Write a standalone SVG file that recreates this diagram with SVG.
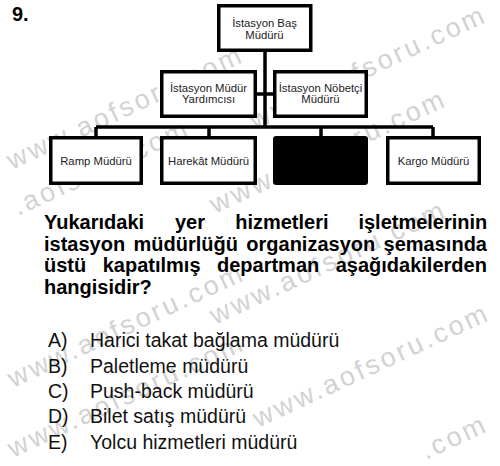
<svg xmlns="http://www.w3.org/2000/svg" width="500" height="466" viewBox="0 0 500 466">
<style>
.wm{font-family:"Liberation Sans",Arial,sans-serif;font-size:27px;fill:#d2d2d2;letter-spacing:3px}
.box{fill:#fff;stroke:#000;stroke-width:3.5}
.blk{fill:#000;stroke:#000;stroke-width:3.5}
.bt{font-family:"Liberation Sans",Arial,sans-serif;font-size:11.3px;fill:#222;text-anchor:middle}
.q{font-family:"Liberation Sans",Arial,sans-serif;font-size:20px;font-weight:bold;fill:#000}
.o{font-family:"Liberation Sans",Arial,sans-serif;font-size:19.5px;fill:#111}
.ln{fill:none;stroke:#000;stroke-width:3.5}
</style>
<rect width="500" height="466" fill="#fff"/>
<g id="watermarks">
<text class="wm" transform="translate(12,170) rotate(-25)">www.aofsoru.com</text>
<text class="wm" transform="translate(255,130) rotate(-25)">www.aofsoru.com</text>
<text class="wm" transform="translate(18,216) rotate(-25)">.aofsoru.com</text>
<text class="wm" transform="translate(215,214) rotate(-25)">www.aofsoru.com</text>
<text class="wm" transform="translate(13,388) rotate(-25)">www.aofsoru.com</text>
<text class="wm" transform="translate(215,325) rotate(-25)">www.aofsoru.com</text>
<text class="wm" transform="translate(13,458) rotate(-25)">www.aofsoru.com</text>
<text class="wm" transform="translate(258,428) rotate(-25)">www.aofsoru.com</text>
<text class="wm" transform="translate(426,460) rotate(-25)">.com</text>
</g>
<text x="12" y="21" style="font-family:'Liberation Sans',Arial,sans-serif;font-size:20px;font-weight:bold">9.</text>
<g id="connectors">
<path class="ln" d="M265 52 V127 M257 94 H273 M96 127 H433 M96 127 V137 M209 127 V137 M321 127 V137 M433 127 V137"/>
</g>
<g id="n-bas">
<rect class="box" x="218.75" y="5.75" width="92" height="44.5"/>
<text class="bt" x="264.5" y="27">İstasyon Baş</text>
<text class="bt" x="264.5" y="38.5">Müdürü</text>
</g>
<g id="n-yardimci">
<rect class="box" x="161.75" y="71.75" width="93.5" height="44.5"/>
<text class="bt" x="208.5" y="91.5">İstasyon Müdür</text>
<text class="bt" x="208.5" y="103">Yardımcısı</text>
</g>
<g id="n-nobetci">
<rect class="box" x="274.75" y="71.75" width="91.5" height="44.5"/>
<text class="bt" x="320.5" y="91.5">İstasyon Nöbetçi</text>
<text class="bt" x="320.5" y="103">Müdürü</text>
</g>
<g id="n-ramp">
<rect class="box" x="50.75" y="137.75" width="90.5" height="45.5"/>
<text class="bt" x="96" y="164.5">Ramp Müdürü</text>
</g>
<g id="n-harekat">
<rect class="box" x="161.75" y="137.75" width="93.5" height="45.5"/>
<text class="bt" x="208.5" y="164.5">Harekât Müdürü</text>
</g>
<g id="n-hidden">
<rect class="blk" x="274.75" y="137.75" width="91.5" height="45.5" rx="1.5"/>
</g>
<g id="n-kargo">
<rect class="box" x="387.75" y="137.75" width="91.5" height="45.5"/>
<text class="bt" x="433.5" y="164.5">Kargo Müdürü</text>
</g>
<g id="question">
<text class="q" y="229"><tspan x="44">Yukarıdaki</tspan><tspan x="175">yer</tspan><tspan x="235.2">hizmetleri</tspan><tspan x="358.4">işletmelerinin</tspan></text>
<text class="q" y="250.5"><tspan x="44">istasyon</tspan><tspan x="133.5">müdürlüğü</tspan><tspan x="246.3">organizasyon</tspan><tspan x="383.6">şemasında</tspan></text>
<text class="q" y="272"><tspan x="44">üstü</tspan><tspan x="102.7">kapatılmış</tspan><tspan x="217">departman</tspan><tspan x="335.7">aşağıdakilerden</tspan></text>
<text class="q" x="44" y="293.5">hangisidir?</text>
</g>
<g id="options">
<text class="o" x="48" y="347">A)</text><text class="o" x="90" y="347">Harici takat bağlama müdürü</text>
<text class="o" x="48" y="372.5">B)</text><text class="o" x="90" y="372.5">Paletleme müdürü</text>
<text class="o" x="48" y="398">C)</text><text class="o" x="90" y="398">Push-back müdürü</text>
<text class="o" x="48" y="423">D)</text><text class="o" x="90" y="423">Bilet satış müdürü</text>
<text class="o" x="48" y="448.5">E)</text><text class="o" x="90" y="448.5">Yolcu hizmetleri müdürü</text>
</g>
</svg>
